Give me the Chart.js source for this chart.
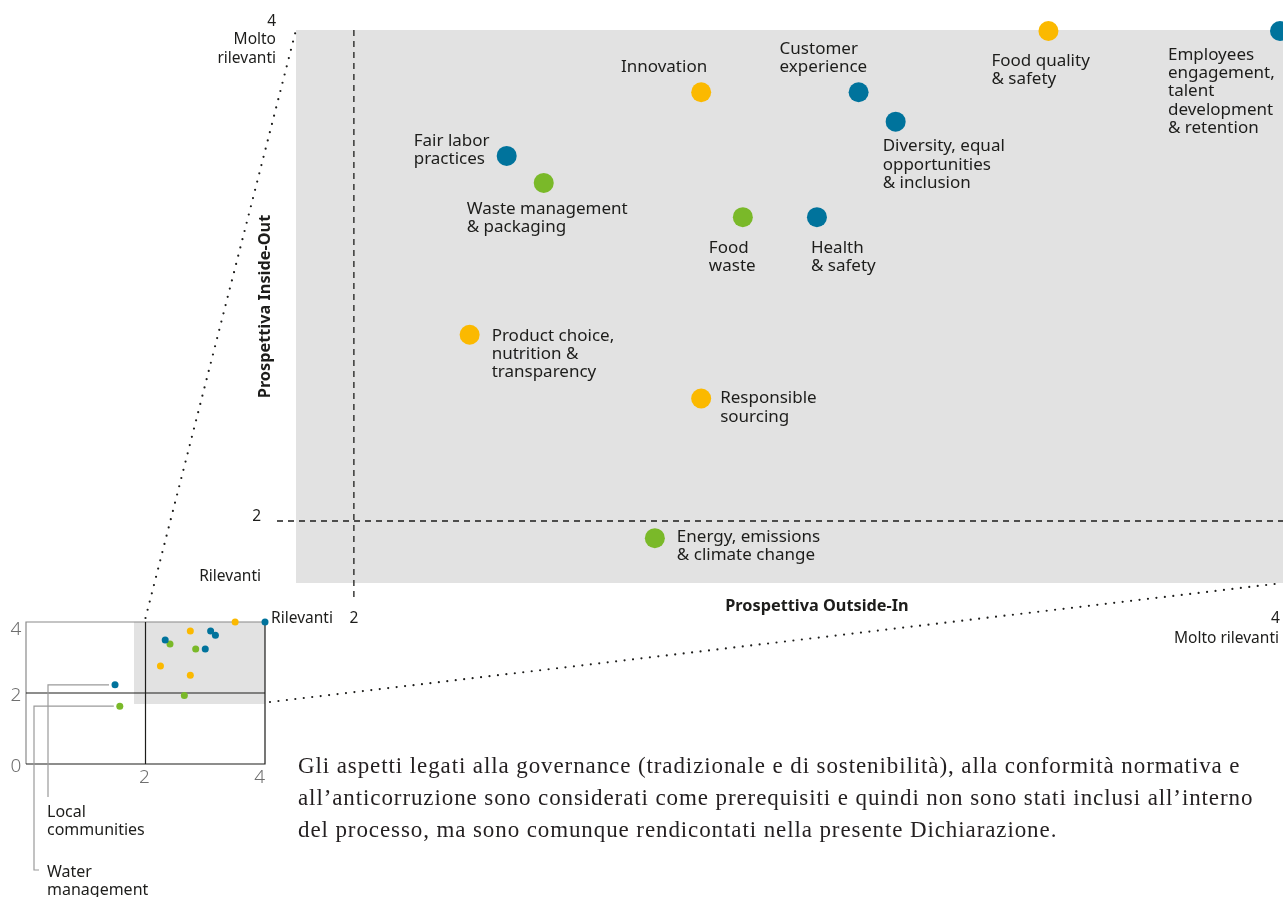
<!DOCTYPE html>
<html>
<head>
<meta charset="utf-8">
<script src="https://cdn.jsdelivr.net/npm/chart.js@4.4.1/dist/chart.umd.min.js"></script>
<style>
    html, body { margin: 0; padding: 0; background: #fff; overflow: hidden; }
    #wrap { position: relative; width: 1283px; height: 897px; }
    #wrap canvas { position: absolute; left: 0; top: 0; }
    #note {
        position: absolute; left: 298px; top: 750px;
        font-family: 'Liberation Serif', serif;
        font-size: 23px; letter-spacing: 0.9px; line-height: 32px; color: #231f20; white-space: nowrap;
    }
</style>
</head>
<body>
<div id="wrap">
    <canvas id="main-chart" width="1283" height="897"></canvas>
    <canvas id="inset-chart" width="1283" height="897"></canvas>
    <div id="note">Gli aspetti legati alla governance (tradizionale e di sostenibilità), alla conformità normativa e<br>all’anticorruzione sono considerati come prerequisiti e quindi non sono stati inclusi all’interno<br>del processo, ma sono comunque rendicontati nella presente Dichiarazione.</div>
</div>
<script>
// ---- data ----
const topics = [
    'Food quality\n& safety',
    'Employees\nengagement,\ntalent\ndevelopment\n& retention',
    'Innovation',
    'Customer\nexperience',
    'Diversity, equal\nopportunities\n& inclusion',
    'Fair labor\npractices',
    'Waste management\n& packaging',
    'Food\nwaste',
    'Health\n& safety',
    'Product choice,\nnutrition &\ntransparency',
    'Responsible\nsourcing',
    'Energy, emissions\n& climate change',
    'Local\ncommunities',
    'Water\nmanagement'
];
const outsideIn = [3.50, 4.00, 2.75, 3.09, 3.17, 2.33, 2.41, 2.84, 3.00, 2.25, 2.75, 2.65, 1.49, 1.57];
const insideOut = [4.00, 4.00, 3.75, 3.75, 3.63, 3.49, 3.38, 3.24, 3.24, 2.76, 2.50, 1.93, 2.23, 1.63];
const topicGroup = ['product', 'people', 'product', 'people', 'people', 'people', 'environment',
    'environment', 'people', 'product', 'product', 'environment', 'people', 'environment'];
const groups = ['product', 'people', 'environment'];
const mainTicks = [2, 4];
const mainTickNames = ['Rilevanti', 'Molto rilevanti'];
const insetTicks = [0, 2, 4];
const xTitle = 'Prospettiva Outside-In';
const yTitle = 'Prospettiva Inside-Out';

// ---- look ----
const groupColors = { product: '#fbb900', people: '#00739c', environment: '#7ab929' };
const zoomX = [1.875, 4.0065];
const zoomY = [1.747, 4.004];
const sans = "'Noto Sans', sans-serif";
const ink = '#1d1d1b';
const lineH = 18.3;
// [align, dx, dy of first line centre] relative to the point
const labelPlace = [
    ['left', -57, 30],
    ['left', -112, 24],
    ['right', 6, -25],
    ['left', -79, -43],
    ['left', -13, 25],
    ['left', -93, -15],
    ['left', -77, 26],
    ['left', -34, 31],
    ['left', -6, 31],
    ['left', 22, 1],
    ['left', 19, 0],
    ['left', 22, -1],
    null,
    null
];
// leader lines for points outside the zoomed area
const leaders = [
    { topic: 12, elbowX: 48, endY: 797, textX: 47, textY: 812, foot: 0 },
    { topic: 13, elbowX: 34, endY: 870, textX: 47, textY: 872, foot: 5 }
];

function groupData(g) {
    return topics.map((t, i) => ({ x: outsideIn[i], y: insideOut[i], topic: i }))
        .filter(p => topicGroup[p.topic] === g);
}

function drawLines(ctx, text, x, y, align) {
    ctx.textAlign = align;
    ctx.textBaseline = 'middle';
    text.split('\n').forEach((l, k) => ctx.fillText(l, x, y + k * lineH));
}

const mainDecor = {
    id: 'mainDecor',
    beforeDatasetsDraw(chart) {
        const { ctx, chartArea: a, scales: { x, y } } = chart;
        ctx.save();
        ctx.fillStyle = '#e2e2e2';
        ctx.fillRect(a.left, a.top, a.right - a.left, a.bottom - a.top);

        ctx.strokeStyle = ink;
        ctx.lineWidth = 1.3;
        ctx.setLineDash([6, 5]);
        const x2 = x.getPixelForValue(mainTicks[0]);
        const y2 = y.getPixelForValue(mainTicks[0]);
        ctx.beginPath();
        ctx.moveTo(x2, a.top);
        ctx.lineTo(x2, a.bottom + 14);
        ctx.moveTo(a.left - 19, y2);
        ctx.lineTo(a.right, y2);
        ctx.stroke();
        ctx.restore();
    },
    afterDraw(chart) {
        const { ctx, chartArea: a, scales: { x, y } } = chart;
        ctx.save();
        ctx.fillStyle = ink;

        // point labels
        ctx.font = '17px ' + sans;
        chart.data.datasets.forEach((ds, di) => {
            chart.getDatasetMeta(di).data.forEach((el, j) => {
                const t = ds.data[j].topic;
                const place = labelPlace[t];
                if (!place) return;
                drawLines(ctx, topics[t], el.x + place[1], el.y + place[2], place[0]);
            });
        });

        // tick values and names
        ctx.font = '15.5px ' + sans;
        const xa = x.getPixelForValue(mainTicks[0]);
        const xb = x.getPixelForValue(mainTicks[1]);
        const ya = y.getPixelForValue(mainTicks[0]);
        const yb = y.getPixelForValue(mainTicks[1]);
        const xRow = a.bottom + 36;
        drawLines(ctx, String(mainTicks[0]), xa, xRow, 'center');
        drawLines(ctx, mainTickNames[0], xa - 21, xRow, 'right');
        drawLines(ctx, String(mainTicks[1]), xb, xRow, 'right');
        drawLines(ctx, mainTickNames[1], xb - 1, xRow + 20, 'right');

        drawLines(ctx, String(mainTicks[0]), a.left - 35, ya - 4, 'right');
        drawLines(ctx, mainTickNames[0], a.left - 35, a.bottom - 6, 'right');
        drawLines(ctx, String(mainTicks[1]), a.left - 20, yb - 9, 'right');
        drawLines(ctx, mainTickNames[1].replace(' ', '\n'), a.left - 20, yb + 9, 'right');

        // axis titles
        ctx.font = 'bold 16.3px ' + sans;
        drawLines(ctx, xTitle, (xa + xb) / 2, a.bottom + 23, 'center');
        ctx.translate(a.left - 31, (a.top + a.bottom) / 2);
        ctx.rotate(-Math.PI / 2);
        drawLines(ctx, yTitle, 0, 0, 'center');
        ctx.restore();
    }
};

const mainChart = new Chart(document.getElementById('main-chart'), {
    type: 'scatter',
    data: {
        datasets: groups.map(g => ({
            label: g,
            data: groupData(g),
            backgroundColor: groupColors[g],
            borderWidth: 0,
            pointRadius: 10,
            pointHoverRadius: 10,
            clip: { left: 0, top: false, right: false, bottom: 0 }
        }))
    },
    options: {
        responsive: false,
        animation: false,
        layout: { autoPadding: false, padding: { left: 296, top: 30, right: 0, bottom: 314 } },
        plugins: { legend: { display: false }, tooltip: { enabled: false } },
        scales: {
            x: { type: 'linear', display: false, min: zoomX[0], max: zoomX[1] },
            y: { type: 'linear', display: false, min: zoomY[0], max: zoomY[1] }
        }
    },
    plugins: [mainDecor]
});

const insetDecor = {
    id: 'insetDecor',
    beforeDatasetsDraw(chart) {
        const { ctx, chartArea: a, scales: { x, y } } = chart;
        const px = v => x.getPixelForValue(v);
        const py = v => y.getPixelForValue(v);
        ctx.save();

        // zoomed window
        ctx.fillStyle = '#e2e2e2';
        ctx.fillRect(px(zoomX[0]) - 4, py(zoomY[1]), a.right - px(zoomX[0]) + 4, py(zoomY[0]) - py(zoomY[1]) + 2);

        // frame
        ctx.lineWidth = 1.2;
        ctx.strokeStyle = '#8a8a8a';
        ctx.beginPath();
        ctx.moveTo(a.left, a.bottom); ctx.lineTo(a.left, a.top); ctx.lineTo(a.right, a.top);
        ctx.stroke();
        ctx.strokeStyle = ink;
        ctx.beginPath();
        ctx.moveTo(a.left, a.bottom); ctx.lineTo(a.right, a.bottom); ctx.lineTo(a.right, a.top);
        ctx.moveTo(px(2), a.top); ctx.lineTo(px(2), a.bottom);
        ctx.moveTo(a.left, py(2)); ctx.lineTo(a.right, py(2));
        ctx.stroke();

        // ticks
        ctx.fillStyle = '#6f6f6f';
        ctx.font = '300 19px ' + sans;
        insetTicks.forEach(v => {
            drawLines(ctx, String(v), a.left - 10, Math.max(py(v) + 3, a.top + 8), 'center');
            if (v > 0) {
                drawLines(ctx, String(v), v === 4 ? a.right : px(v) - 1, a.bottom + 14, v === 4 ? 'right' : 'center');
            }
        });

        // leader lines
        ctx.strokeStyle = '#9a9a9a';
        ctx.lineWidth = 1.2;
        ctx.fillStyle = ink;
        ctx.font = '16px ' + sans;
        leaders.forEach(l => {
            const yy = py(insideOut[l.topic]);
            ctx.beginPath();
            ctx.moveTo(px(outsideIn[l.topic]) - 6, yy);
            ctx.lineTo(l.elbowX, yy);
            ctx.lineTo(l.elbowX, l.endY);
            ctx.lineTo(l.elbowX + l.foot, l.endY);
            ctx.stroke();
            drawLines(ctx, topics[l.topic], l.textX, l.textY, 'left');
        });
        ctx.restore();
    },
    afterDraw(chart) {
        // dotted connectors from the zoomed window to the main chart
        const { ctx, chartArea: a, scales: { x, y } } = chart;
        const m = mainChart.chartArea;
        ctx.save();
        ctx.strokeStyle = ink;
        ctx.lineWidth = 2.2;
        ctx.lineCap = 'round';
        ctx.setLineDash([0, 8.5]);
        ctx.beginPath();
        ctx.moveTo(x.getPixelForValue(2), y.getPixelForValue(4) - 4);
        ctx.lineTo(m.left, m.top);
        ctx.moveTo(a.right + 5, y.getPixelForValue(zoomY[0]));
        ctx.lineTo(m.right, m.bottom);
        ctx.stroke();
        ctx.restore();
    }
};

new Chart(document.getElementById('inset-chart'), {
    type: 'scatter',
    data: {
        datasets: groups.map(g => ({
            label: g,
            data: groupData(g),
            backgroundColor: groupColors[g],
            borderWidth: 0,
            pointRadius: 3.5,
            pointHoverRadius: 3.5,
            clip: false
        }))
    },
    options: {
        responsive: false,
        animation: false,
        layout: { autoPadding: false, padding: { left: 26, top: 622, right: 1018, bottom: 133 } },
        plugins: { legend: { display: false }, tooltip: { enabled: false } },
        scales: {
            x: { type: 'linear', display: false, min: 0, max: 4 },
            y: { type: 'linear', display: false, min: 0, max: 4 }
        }
    },
    plugins: [insetDecor]
});
</script>
</body>
</html>
